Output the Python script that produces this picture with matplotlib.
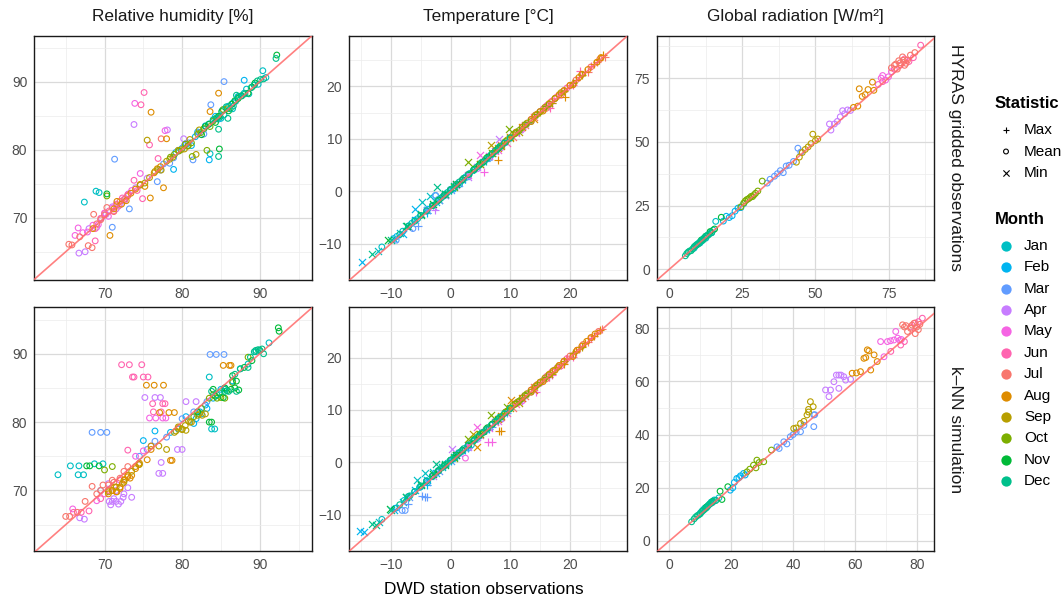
import matplotlib
matplotlib.use("Agg")
import matplotlib.pyplot as plt
from matplotlib.ticker import MultipleLocator

plt.rcParams['font.family'] = ['Liberation Sans', 'DejaVu Sans']

months = ['Jan', 'Feb', 'Mar', 'Apr', 'May', 'Jun', 'Jul', 'Aug', 'Sep', 'Oct', 'Nov', 'Dec']
month_colors = ['#00BFC4', '#00B4F0', '#619CFF', '#C77CFF', '#F564E3', '#FF64B0',
                '#F8766D', '#DE8C00', '#B79F00', '#7CAE00', '#00BA38', '#00C08B']
stats = ['Max', 'Mean', 'Min']
stat_markers = {'Max': '+', 'Mean': 'o', 'Min': 'x'}

variables = ['Relative humidity [%]', 'Temperature [°C]', 'Global radiation [W/m²]']
sources = ['HYRAS gridded observations', 'k\u2013NN simulation']

# rows: (month, statistic, DWD station values, compared values)
rh_hyras = [
    ('Jan', 'Mean', [84.2, 85.0, 85.8, 86.5, 87.2, 88.0, 88.6, 89.3, 90.4, 83.6, 68.9, 69.3, 67.4],
                    [84.5, 84.6, 86.2, 86.0, 87.6, 88.3, 88.2, 89.5, 91.6, 79.4, 73.9, 73.7, 72.3]),
    ('Jan', 'Mean', [85.4, 86.9, 88.3, 89.8, 90.8], [85.1, 87.1, 88.9, 89.6, 90.6]),
    ('Feb', 'Mean', [79.2, 80.5, 81.2, 82.0, 82.8, 83.5, 84.3, 85.2, 86.0, 87.2, 88.0, 83.5, 78.9],
                    [79.6, 80.9, 80.6, 82.6, 83.0, 78.5, 84.9, 85.8, 86.4, 87.8, 90.2, 83.8, 77.1]),
    ('Feb', 'Mean', [80.0, 81.7, 83.0, 84.7, 86.6], [80.2, 81.9, 83.5, 84.5, 86.9]),
    ('Mar', 'Mean', [76.8, 77.6, 78.4, 79.5, 80.3, 81.4, 82.2, 83.7, 85.4, 71.3, 73.2, 71.0],
                    [75.3, 77.9, 78.0, 79.9, 80.6, 78.5, 82.5, 86.6, 90.0, 78.6, 71.3, 68.6]),
    ('Mar', 'Mean', [77.2, 78.9, 80.8, 82.8], [77.0, 78.8, 81.0, 82.3]),
    ('Apr', 'Mean', [66.7, 67.5, 69.0, 70.2, 71.0, 72.0, 73.1, 74.0, 75.5, 73.8, 78.1, 80.2],
                    [64.8, 65.0, 68.6, 70.5, 71.6, 71.9, 73.5, 74.4, 75.8, 83.7, 82.9, 81.6]),
    ('Apr', 'Mean', [68.0, 69.6, 71.5, 72.6, 74.6], [68.4, 69.9, 71.3, 72.5, 74.8]),
    ('May', 'Mean', [66.6, 66.2, 67.8, 69.2, 70.5, 71.5, 72.5, 73.5, 74.6, 73.9, 77.8],
                    [68.5, 67.4, 67.9, 69.0, 70.2, 72.0, 72.7, 74.0, 76.5, 86.8, 82.8]),
    ('May', 'Mean', [67.2, 68.5, 70.0, 71.0, 73.0], [67.8, 68.9, 70.7, 71.4, 73.3]),
    ('Jun', 'Mean', [68.8, 68.8, 70.0, 71.2, 72.3, 73.8, 74.9, 75.1, 74.7, 75.8, 76.9],
                    [68.4, 66.6, 70.6, 71.0, 72.9, 75.5, 72.8, 88.4, 86.6, 80.7, 78.7]),
    ('Jun', 'Mean', [69.5, 70.6, 71.8, 73.0, 74.2], [69.9, 71.0, 71.7, 73.4, 74.0]),
    ('Jul', 'Mean', [65.4, 65.8, 67.9, 68.4, 68.6, 69.5, 70.3, 71.2, 72.0, 73.0, 77.3],
                    [66.1, 66.0, 65.9, 65.6, 70.5, 69.7, 71.5, 70.9, 72.4, 73.2, 81.6]),
    ('Jul', 'Mean', [66.8, 69.0, 70.0, 71.6, 72.6], [67.2, 69.1, 70.4, 71.9, 72.7]),
    ('Aug', 'Mean', [68.5, 70.7, 71.6, 72.8, 74.0, 75.2, 75.9, 76.8, 77.6, 76.0, 78.0, 84.7, 83.6],
                    [68.4, 67.4, 72.4, 72.5, 74.2, 74.6, 72.9, 77.2, 74.4, 85.5, 81.6, 88.3, 85.6]),
    ('Aug', 'Mean', [71.2, 72.2, 73.4, 74.6, 76.4, 77.2], [71.3, 72.0, 73.6, 74.9, 76.6, 77.5]),
    ('Sep', 'Mean', [74.6, 75.8, 76.5, 77.3, 78.0, 78.8, 79.5, 80.3, 81.0, 75.5, 81.8, 82.2],
                    [74.8, 75.9, 76.8, 77.0, 78.3, 78.9, 79.9, 80.1, 81.5, 81.4, 79.3, 82.9]),
    ('Sep', 'Mean', [75.2, 76.9, 78.4, 79.9, 80.7], [75.1, 77.1, 78.6, 80.0, 80.5]),
    ('Oct', 'Mean', [78.5, 79.6, 80.4, 81.2, 82.0, 82.8, 83.6, 84.5, 85.3, 70.3, 83.2, 81.3],
                    [78.9, 79.8, 80.8, 81.0, 82.3, 83.1, 83.4, 84.7, 85.9, 73.2, 79.9, 79.0]),
    ('Oct', 'Mean', [79.0, 80.8, 82.4, 84.0, 85.8], [79.3, 80.6, 82.5, 84.2, 86.0]),
    ('Nov', 'Mean', [82.5, 83.4, 84.3, 85.1, 86.0, 86.8, 87.6, 88.5, 89.4, 70.3, 92.2, 84.8],
                    [82.2, 83.7, 84.0, 85.6, 85.7, 87.2, 87.9, 88.3, 89.8, 73.5, 93.9, 80.1]),
    ('Nov', 'Mean', [83.0, 84.7, 86.4, 87.2, 89.0], [83.4, 84.9, 86.7, 87.5, 89.2]),
    ('Dec', 'Mean', [84.0, 84.9, 85.7, 86.6, 87.3, 88.1, 88.9, 89.7, 90.5, 84.7, 85.9, 92.1, 84.7, 87.0],
                    [84.4, 84.8, 86.3, 86.4, 87.8, 88.2, 89.1, 90.1, 90.4, 79.0, 84.6, 93.4, 83.0, 88.0]),
    ('Dec', 'Mean', [84.4, 86.2, 87.7, 89.3, 90.1], [84.6, 86.0, 87.9, 89.5, 90.3]),
]

rh_knn = [
    ('Jan', 'Mean', [64.0, 66.6, 67.3, 65.6, 66.7, 68.7, 69.8, 83.5, 83.8, 84.2, 85.5, 86.5, 87.5, 88.5, 89.5, 91.2],
                    [72.3, 72.3, 72.3, 73.6, 73.6, 73.9, 73.9, 86.6, 79.0, 79.0, 85.0, 86.0, 87.8, 88.5, 90.3, 91.6]),
    ('Feb', 'Mean', [78.5, 79.5, 80.5, 81.5, 82.3, 83.0, 84.0, 85.0, 86.5, 76.5, 75.0, 81.8, 82.5, 83.2],
                    [78.5, 79.0, 80.8, 79.8, 81.5, 82.5, 83.5, 84.8, 86.0, 78.7, 77.3, 80.5, 81.2, 82.0]),
    ('Mar', 'Mean', [68.4, 69.5, 70.3, 83.6, 84.4, 85.4, 74.5, 75.5, 76.5, 78.0, 80.0, 81.5, 83.2, 69.5],
                    [78.5, 78.5, 78.5, 89.9, 89.9, 89.9, 75.0, 76.0, 77.2, 77.8, 80.5, 81.5, 83.0, 70.0]),
    ('Apr', 'Mean', [75.2, 76.5, 77.2, 77.0, 77.5, 77.3, 79.4, 80.0, 66.8, 67.4, 70.6, 71.0, 71.5, 72.1,
                     72.5, 73.5, 71.5, 70.5, 80.5, 81.8, 70.8, 71.2, 71.8, 72.4, 73.0],
                    [83.6, 83.6, 83.6, 72.5, 72.5, 74.1, 76.0, 76.0, 66.0, 65.8, 68.4, 68.4, 68.4, 68.4,
                     69.5, 69.0, 70.0, 71.0, 83.0, 83.0, 67.9, 68.8, 68.0, 69.0, 70.4]),
    ('May', 'Mean', [75.8, 76.6, 77.5, 77.9, 65.9, 69.0, 70.0, 72.0, 74.0, 75.0, 76.0],
                    [80.6, 80.6, 80.6, 80.6, 67.3, 68.5, 69.5, 71.5, 75.0, 75.8, 76.5]),
    ('Jun', 'Mean', [72.2, 73.2, 74.8, 73.6, 73.8, 75.0, 75.6, 76.2, 77.5, 77.8, 76.3, 77.3, 73.0,
                     66.0, 67.0, 68.0, 69.5, 70.5],
                    [88.4, 88.4, 88.4, 86.6, 86.6, 86.6, 86.6, 82.7, 82.7, 82.7, 81.5, 81.5, 75.9,
                     66.8, 66.8, 67.0, 68.8, 70.0]),
    ('Jul', 'Mean', [65.0, 65.5, 66.5, 67.5, 68.4, 69.5, 70.5, 71.0, 72.0, 73.0, 69.0, 69.8, 70.5, 71.2, 72.5],
                    [66.2, 66.2, 66.8, 68.4, 70.6, 70.0, 70.8, 71.5, 71.8, 73.5, 69.5, 70.8, 70.0, 71.2, 72.8]),
    ('Aug', 'Mean', [75.4, 76.4, 77.6, 77.1, 78.3, 79.0, 78.5, 78.7, 85.3, 86.1, 86.3, 70.5, 71.0,
                     71.5, 72.0, 72.5, 73.0, 73.5, 74.0, 74.5, 75.5, 76.0],
                    [85.4, 85.4, 85.4, 81.4, 81.4, 81.4, 74.4, 74.4, 88.3, 88.3, 88.3, 69.5, 70.0,
                     69.8, 70.5, 71.5, 72.0, 72.2, 73.5, 74.0, 74.5, 76.0]),
    ('Aug', 'Mean', [71.0, 71.3, 71.6, 72.0, 72.3, 72.6, 73.0, 73.3, 74.0, 74.4],
                    [70.0, 70.5, 69.8, 70.3, 71.0, 71.6, 72.2, 71.8, 73.2, 73.8]),
    ('Sep', 'Mean', [70.5, 71.5, 72.5, 73.5, 74.5, 76.0, 77.0, 78.0, 79.0, 80.0, 81.0, 82.0, 83.0, 79.5, 80.5],
                    [69.8, 70.5, 71.2, 72.8, 73.8, 76.5, 76.5, 76.0, 78.5, 79.0, 80.0, 81.0, 81.2, 79.3, 78.8]),
    ('Sep', 'Mean', [79.2, 79.6, 80.0, 80.4, 80.8, 81.2, 82.2, 82.6], [78.7, 79.2, 78.9, 79.5, 80.2, 80.0, 81.2, 81.0]),
    ('Oct', 'Mean', [70.0, 71.0, 81.5, 82.5, 83.5, 84.5, 85.5, 86.5, 84.0, 85.0, 88.5],
                    [73.0, 73.5, 80.8, 82.0, 83.5, 83.5, 83.5, 85.8, 84.0, 83.6, 89.5]),
    ('Nov', 'Mean', [67.7, 68.1, 69.3, 83.5, 83.8, 82.0, 84.0, 85.5, 86.5, 87.0, 88.0, 89.0, 90.0, 92.4, 92.5],
                    [73.6, 73.6, 73.6, 80.0, 80.0, 81.5, 84.8, 85.0, 86.8, 86.0, 88.0, 89.0, 90.5, 93.8, 93.3]),
    ('Nov', 'Mean', [84.3, 84.8, 85.3, 85.8, 86.3, 86.8, 87.3], [83.8, 84.3, 83.6, 84.6, 84.8, 85.0, 84.7]),
    ('Dec', 'Mean', [83.8, 84.5, 85.5, 86.0, 86.8, 87.5, 88.5, 89.5, 90.0, 90.5, 85.5, 87.0, 88.8, 89.3, 89.8, 90.3],
                    [84.5, 84.0, 84.8, 84.5, 87.0, 87.8, 88.0, 90.5, 90.5, 90.0, 84.5, 84.5, 89.5, 90.3, 90.6, 90.7]),
]

temp_hyras = [
    ('Jan', 'Min', [-12.2, -8.5, -6.0, -4.8, -3.4, -2.0, -1.0], [-11.4, -8.0, -5.4, -2.0, -0.8, -1.6, -0.7]),
    ('Jan', 'Mean', [-11.5, -6.5, -4.0, -2.0, -0.5, 0.5, 1.5, 2.5], [-10.6, -6.1, -3.8, -1.6, -0.2, 0.7, 1.3, 2.6]),
    ('Jan', 'Mean', [-9.5, -8.0, -5.5, -3.0, -1.2, 0.0, 1.0, 2.0, 3.2], [-9.0, -7.6, -5.2, -2.7, -0.9, 0.2, 1.2, 2.1, 3.4]),
    ('Jan', 'Max', [-3.0, -1.0, 1.0, 2.5, 4.0, 5.0, 6.0], [-2.7, -0.6, 1.2, 2.3, 4.2, 5.1, 5.8]),
    ('Feb', 'Min', [-14.9, -7.9, -5.9, -9.5, -4.0, -2.5], [-13.5, -8.1, -3.3, -9.0, -3.5, -2.0]),
    ('Feb', 'Mean', [-9.0, -5.0, -2.5, -1.0, 0.5, 2.0, 3.0], [-8.6, -4.6, -0.8, -0.8, 0.4, 2.2, 3.1]),
    ('Feb', 'Mean', [-7.0, -6.0, -3.8, -1.8, 0.0, 1.2, 2.6, 4.0], [-6.6, -5.5, -3.4, -1.5, 0.3, 1.4, 2.8, 4.1]),
    ('Feb', 'Max', [-4.0, 0.0, 2.5, 4.5, 6.5, 8.0], [-4.2, 0.3, 2.3, 4.6, 6.6, 7.8]),
    ('Mar', 'Min', [-7.0, -4.0, -2.0, 0.0, 1.5], [-6.8, -3.6, -1.7, 0.2, 1.6]),
    ('Mar', 'Mean', [-9.1, -6.3, -2.5, 1.0, 3.0, 5.0, 6.5], [-9.3, -7.1, -0.8, 1.1, 2.8, 5.2, 6.3]),
    ('Mar', 'Mean', [-4.0, -1.0, 0.0, 2.0, 4.0, 5.8, 7.5, 8.5], [-3.6, -0.7, 0.3, 2.2, 4.2, 5.9, 7.6, 8.7]),
    ('Mar', 'Max', [-5.4, 4.0, 7.0, 9.5, 11.5, 13.0], [-6.7, 4.2, 6.8, 9.6, 11.3, 13.1]),
    ('Apr', 'Min', [-3.0, -1.0, 1.0, 3.0, 4.5, 8.1], [-2.8, -0.7, 1.3, 2.8, 4.7, 10.0]),
    ('Apr', 'Mean', [2.0, 4.5, 6.5, 8.5, 10.0, 3.0, 5.5, 7.5, 9.0, 11.0, 12.0],
                    [2.2, 4.3, 6.7, 8.3, 10.2, 3.2, 5.7, 7.7, 9.2, 11.1, 12.2]),
    ('Apr', 'Max', [-2.6, 9.0, 12.0, 14.0, 16.5], [-3.6, 9.2, 11.8, 14.2, 16.3]),
    ('May', 'Min', [1.0, 3.0, 4.9, 6.5, 8.0], [1.2, 3.2, 6.9, 6.7, 7.8]),
    ('May', 'Mean', [7.5, 10.0, 12.0, 13.5, 15.0, 8.5, 9.0, 11.0, 12.8, 14.2, 16.0],
                    [7.6, 10.2, 11.8, 13.7, 15.2, 8.7, 9.3, 11.2, 12.9, 14.5, 16.2]),
    ('May', 'Max', [5.6, 14.0, 17.0, 19.0, 21.0], [3.7, 14.3, 16.8, 19.3, 21.2]),
    ('Jun', 'Min', [5.0, 7.5, 9.5, 11.0], [5.2, 7.7, 9.3, 11.2]),
    ('Jun', 'Mean', [11.0, 13.5, 15.5, 17.0, 18.5, 12.0, 12.5, 14.5, 16.2, 17.8, 19.5],
                    [11.2, 13.3, 15.7, 17.2, 18.3, 12.3, 12.6, 14.7, 16.4, 18.0, 19.7]),
    ('Jun', 'Max', [16.6, 18.5, 20.5, 21.6, 23.5], [15.9, 18.7, 20.2, 22.9, 23.8]),
    ('Jul', 'Min', [8.5, 10.5, 12.5, 14.0], [8.8, 10.3, 12.7, 14.2]),
    ('Jul', 'Mean', [14.0, 16.0, 17.5, 19.0, 20.5, 15.0, 16.8, 18.2, 20.0, 21.0, 22.0, 23.5, 25.0],
                    [14.2, 15.8, 17.7, 19.2, 20.3, 15.2, 17.0, 18.4, 20.2, 21.2, 22.3, 23.7, 25.2]),
    ('Jul', 'Max', [19.5, 21.5, 23.0, 24.5, 25.8], [19.7, 21.7, 22.8, 24.7, 25.6]),
    ('Aug', 'Min', [8.0, 10.0, 12.0, 14.0], [8.2, 10.3, 12.2, 13.8]),
    ('Aug', 'Mean', [13.5, 15.5, 17.5, 19.0, 20.5, 22.0, 14.5, 16.5, 18.2, 20.0, 21.5, 23.0, 24.5, 25.2],
                    [13.7, 15.3, 17.7, 19.2, 20.3, 22.3, 14.7, 16.7, 18.4, 20.2, 21.7, 23.2, 24.6, 25.5]),
    ('Aug', 'Max', [7.9, 19.1, 21.0, 22.5, 24.0, 25.6, 24.8], [5.9, 18.0, 21.2, 22.8, 24.3, 25.9, 25.0]),
    ('Sep', 'Min', [6.7, 8.5, 10.0, 11.5], [8.9, 8.7, 10.2, 11.3]),
    ('Sep', 'Mean', [10.5, 12.0, 13.5, 15.0, 16.5, 9.5, 11.0, 12.8, 14.2, 15.8, 17.5, 18.5],
                    [10.8, 12.2, 13.3, 15.2, 16.6, 9.8, 11.3, 13.0, 14.5, 16.0, 17.7, 18.8]),
    ('Sep', 'Max', [15.0, 17.0, 19.0, 20.5, 22.0], [15.2, 16.8, 19.2, 20.7, 22.2]),
    ('Oct', 'Min', [0.5, 3.0, 5.0, 7.0, 9.8], [0.8, 5.5, 5.3, 7.3, 11.9]),
    ('Oct', 'Mean', [5.0, 7.0, 8.5, 10.0, 11.5, 4.0, 6.0, 7.8, 9.2, 10.8, 12.5],
                    [5.3, 7.2, 8.6, 10.2, 11.6, 4.3, 6.3, 8.0, 9.5, 11.0, 12.7]),
    ('Oct', 'Max', [9.0, 11.5, 13.0, 14.5, 16.0], [9.3, 11.7, 13.2, 14.7, 16.3]),
    ('Nov', 'Min', [-10.4, -7.3, -5.0, -3.0, -1.0, 1.0], [-9.2, -6.7, -4.5, -2.5, -0.6, 1.3]),
    ('Nov', 'Mean', [-3.0, 0.0, 2.0, 4.0, 5.5, 7.0, -2.0, -1.0, 1.0, 3.0, 4.8, 6.2, 8.0],
                    [-2.7, 0.3, 2.2, 4.2, 5.6, 7.2, -1.7, -0.7, 1.3, 3.2, 5.0, 6.5, 8.2]),
    ('Nov', 'Max', [1.0, 3.5, 6.0, 8.0, 9.5], [1.2, 3.6, 6.3, 8.2, 9.7]),
    ('Dec', 'Min', [-13.2, -10.0, -7.5, -5.0, -2.2, -1.0, 0.5], [-12.0, -9.3, -6.7, -4.4, 0.8, -0.5, 1.0]),
    ('Dec', 'Mean', [-6.0, -4.0, -1.5, 0.0, 1.5, 3.0, 4.5, 6.0, 7.5, 9.0],
                    [-5.7, -3.7, -1.2, 0.3, 1.8, 3.2, 4.7, 6.2, 7.7, 9.2]),
    ('Dec', 'Mean', [-8.5, -7.0, -5.0, -3.0, -2.2, -0.8, 0.8, 2.2, 3.8, 5.2, 6.8, 8.2, 10.0],
                    [-8.2, -6.6, -4.6, -2.7, -1.9, -0.5, 1.1, 2.5, 4.0, 5.5, 7.0, 8.5, 10.2]),
    ('Dec', 'Max', [0.0, 2.0, 4.0, 6.0, 8.0, 9.5], [0.3, 2.3, 4.3, 6.2, 8.2, 9.8]),
]

temp_knn = [
    ('Jan', 'Min', [-12.0, -8.0, -5.6, -4.2, -3.0, -1.5], [-11.4, -7.5, -3.3, -2.0, -1.8, -0.9]),
    ('Jan', 'Mean', [-11.5, -6.8, -4.0, -2.0, -0.5, 0.8, 2.0, -9.3, -7.8, -5.2, -3.0, -1.2, 0.2, 1.4, 3.0],
                    [-10.9, -6.4, -3.5, -1.6, -0.1, 0.9, 2.1, -8.8, -7.3, -4.8, -2.6, -0.8, 0.5, 1.7, 3.3]),
    ('Jan', 'Max', [-3.5, -1.0, 1.0, 3.0, 4.5, 6.0], [-3.2, -0.7, 1.3, 2.8, 4.6, 6.1]),
    ('Feb', 'Min', [-15.2, -14.5, -9.5, -6.0, -4.0, -2.5], [-13.2, -13.4, -9.1, -5.2, -3.3, -2.0]),
    ('Feb', 'Mean', [-9.0, -5.0, -3.0, -1.0, 0.5, 2.0, 3.5, -7.2, -6.0, -4.0, -2.0, 1.2, 2.8],
                    [-8.7, -4.7, -2.6, -0.6, 0.7, 2.3, 3.3, -6.7, -5.6, -3.6, -1.6, 1.5, 3.0]),
    ('Feb', 'Max', [-4.0, 0.0, 2.5, 4.5, 6.5, 8.0], [-4.3, 0.2, 2.3, 4.7, 6.4, 7.8]),
    ('Mar', 'Min', [-7.0, -4.0, -2.0, 0.0, 1.5], [-6.6, -3.7, -1.6, 0.3, 1.7]),
    ('Mar', 'Mean', [-8.1, -7.6, -2.5, 1.0, 3.0, 5.0, 7.0, -1.0, 0.0, 2.0, 4.0, 6.0, 8.5],
                    [-9.2, -9.2, -2.2, 1.2, 2.7, 5.1, 7.2, -0.7, 0.3, 2.3, 4.2, 6.1, 8.3]),
    ('Mar', 'Max', [-7.1, -4.8, -4.3, -4.0, 4.0, 7.0, 9.5, 12.0], [-8.0, -6.5, -6.6, -6.6, 4.2, 6.7, 9.4, 12.2]),
    ('Apr', 'Min', [-3.0, 0.2, 1.0, 3.0, 4.5], [-2.6, 2.5, 1.3, 2.9, 4.8]),
    ('Apr', 'Mean', [2.0, 4.5, 6.5, 8.5, 10.0, 3.0, 5.5, 7.5, 9.2, 11.0, 12.2],
                    [2.3, 4.4, 6.6, 8.2, 10.3, 3.3, 5.8, 7.7, 9.5, 11.3, 12.4]),
    ('Apr', 'Max', [9.0, 12.0, 14.0, 16.5], [9.3, 11.7, 14.3, 16.2]),
    ('May', 'Min', [1.0, 3.0, 4.5, 6.5, 8.0], [1.3, 3.3, 6.8, 6.6, 7.9]),
    ('May', 'Mean', [2.5, 7.5, 10.0, 12.0, 13.5, 15.0, 8.5, 9.2, 11.0, 12.8, 14.3, 16.0],
                    [0.8, 7.8, 10.3, 11.7, 13.8, 15.1, 8.8, 9.5, 11.3, 13.0, 14.6, 16.3]),
    ('May', 'Max', [6.3, 6.9, 14.3, 17.0, 19.0, 21.0], [3.8, 3.8, 13.5, 16.7, 19.4, 21.1]),
    ('Jun', 'Min', [5.0, 7.5, 9.5, 11.0], [5.3, 7.6, 9.4, 11.1]),
    ('Jun', 'Mean', [11.0, 13.5, 15.5, 17.0, 18.5, 12.0, 14.5, 16.2, 17.8, 19.5],
                    [11.3, 13.4, 15.6, 17.3, 18.4, 12.3, 14.8, 16.5, 18.0, 19.8]),
    ('Jun', 'Max', [16.5, 18.5, 19.4, 20.5, 22.0, 23.5], [16.3, 18.6, 19.8, 20.1, 22.3, 23.7]),
    ('Jul', 'Min', [8.5, 10.5, 12.5, 14.0], [8.7, 10.4, 12.6, 14.3]),
    ('Jul', 'Mean', [14.0, 16.0, 17.5, 19.0, 20.5, 15.0, 16.8, 18.2, 20.0, 21.2, 22.2, 23.6, 24.8],
                    [14.3, 15.9, 17.6, 19.3, 20.4, 15.3, 17.0, 18.5, 20.3, 21.4, 22.5, 23.8, 25.0]),
    ('Jul', 'Max', [19.5, 21.5, 23.0, 24.5, 25.4], [19.8, 21.6, 22.9, 24.6, 25.5]),
    ('Aug', 'Min', [4.5, 8.0, 10.1, 12.0, 14.0], [3.0, 8.3, 11.9, 12.3, 13.9]),
    ('Aug', 'Mean', [13.5, 15.5, 17.5, 19.0, 20.5, 22.0, 23.5, 14.5, 16.5, 18.2, 21.2, 22.8, 24.2],
                    [13.8, 15.4, 17.6, 19.3, 20.2, 22.2, 23.8, 14.8, 16.8, 18.5, 21.4, 23.1, 24.5]),
    ('Aug', 'Max', [8.1, 8.5, 19.0, 21.0, 22.5, 24.0, 25.0], [5.9, 5.9, 18.8, 21.3, 22.7, 24.2, 25.2]),
    ('Sep', 'Min', [3.8, 8.5, 10.0, 11.5], [5.4, 8.8, 10.3, 11.4]),
    ('Sep', 'Mean', [10.5, 12.0, 13.5, 15.0, 16.5, 18.0, 9.5, 11.2, 12.8, 14.2, 15.8, 17.2],
                    [10.9, 12.3, 13.4, 15.3, 16.7, 18.2, 9.8, 11.5, 13.1, 14.5, 16.1, 17.5]),
    ('Sep', 'Max', [15.0, 17.0, 19.0, 20.5, 22.0], [15.3, 16.9, 19.3, 20.8, 22.1]),
    ('Oct', 'Min', [0.5, 3.0, 5.0, 6.7, 9.5], [0.9, 4.5, 5.4, 9.1, 10.5]),
    ('Oct', 'Mean', [5.0, 7.0, 8.5, 10.0, 11.5, 4.0, 6.0, 7.8, 9.2, 10.8, 12.5],
                    [5.4, 7.3, 8.7, 10.3, 11.7, 4.4, 6.4, 8.1, 9.6, 11.1, 12.8]),
    ('Oct', 'Max', [9.0, 11.5, 13.0, 14.5, 16.0], [9.4, 11.8, 13.3, 14.8, 16.2]),
    ('Nov', 'Min', [-10.1, -7.5, -5.0, -3.0, -1.0, 1.0], [-9.0, -6.6, -4.3, -2.3, -0.5, 1.4]),
    ('Nov', 'Mean', [-3.0, 0.0, 2.0, 4.0, 5.5, 7.0, -2.0, -1.0, 1.0, 3.0, 4.8, 6.2, 8.0],
                    [-2.6, 0.4, 2.3, 4.3, 5.7, 7.3, -1.6, -0.6, 1.4, 3.3, 5.1, 6.6, 8.3]),
    ('Nov', 'Max', [1.0, 3.5, 6.0, 8.0, 9.5], [1.3, 3.7, 6.2, 8.3, 9.8]),
    ('Dec', 'Min', [-13.2, -12.5, -10.0, -7.5, -5.0, -2.5, -1.0, 0.5],
                   [-11.8, -11.9, -9.2, -6.6, -4.2, -0.4, -0.3, 1.1]),
    ('Dec', 'Mean', [-6.0, -4.0, -1.5, 0.0, 1.5, 3.0, 4.5, 6.0, 7.5, 9.0],
                    [-5.6, -3.6, -1.1, 0.4, 1.9, 3.3, 4.8, 6.3, 7.8, 9.3]),
    ('Dec', 'Mean', [-8.5, -7.0, -5.0, -3.0, -2.2, -0.8, 0.8, 2.2, 3.8, 5.2, 6.8, 8.2, 10.0],
                    [-8.1, -6.5, -4.5, -2.6, -1.8, -0.4, 1.2, 2.6, 4.1, 5.6, 7.1, 8.6, 10.3]),
    ('Dec', 'Max', [0.0, 2.0, 4.0, 6.0, 8.0, 9.5], [0.4, 2.4, 4.2, 6.3, 8.3, 9.7]),
]

rad_hyras = [
    ('Jan', 'Mean', [8.5, 9.5, 10.5, 11.5, 12.5, 13.5, 14.5, 15.9, 9.0, 10.0, 11.0, 12.0, 13.0, 14.0, 15.0],
                    [8.3, 9.8, 10.3, 11.8, 12.2, 13.7, 14.3, 18.8, 9.2, 10.2, 11.0, 12.4, 13.2, 14.5, 15.4]),
    ('Feb', 'Mean', [18.5, 19.5, 20.5, 21.5, 22.5, 23.5, 24.5, 25.5], [18.9, 20.8, 20.3, 21.0, 22.8, 24.0, 24.2, 25.8]),
    ('Mar', 'Mean', [33.5, 34.5, 36.0, 37.0, 38.0, 39.0, 40.0, 41.0, 42.5, 44.0, 45.0],
                    [33.8, 35.3, 36.5, 37.5, 38.7, 37.9, 40.5, 40.8, 42.3, 47.5, 46.0]),
    ('Apr', 'Mean', [55.3, 54.8, 56.5, 57.5, 58.5, 59.3, 60.0, 61.0, 62.0], [54.6, 57.0, 57.0, 58.0, 59.8, 62.2, 61.0, 62.5, 62.3]),
    ('May', 'Mean', [71.5, 72.5, 73.0, 74.0, 75.0, 76.0], [72.5, 75.0, 76.0, 74.2, 75.5, 77.5]),
    ('Jun', 'Mean', [77.0, 79.0, 80.5, 82.0, 83.5, 86.0, 73.0], [78.5, 80.0, 82.5, 81.5, 83.0, 87.9, 73.6]),
    ('Jul', 'Mean', [76.0, 77.5, 78.5, 79.8, 80.5, 81.5, 82.5, 84.0, 77.0, 78.0, 79.0, 80.0, 81.0],
                    [79.0, 80.5, 81.8, 83.3, 80.0, 82.0, 84.0, 85.0, 80.0, 78.5, 81.0, 82.0, 80.8]),
    ('Aug', 'Mean', [63.0, 64.5, 65.0, 66.0, 67.0, 68.0, 69.5, 70.0], [63.5, 64.0, 70.8, 67.8, 68.5, 70.5, 73.4, 70.2]),
    ('Sep', 'Mean', [43.5, 44.5, 45.5, 46.5, 47.5, 48.5, 49.1, 50.0, 50.8], [42.0, 44.0, 45.8, 47.0, 48.0, 49.3, 53.0, 50.5, 51.1]),
    ('Oct', 'Mean', [24.5, 25.5, 26.5, 27.5, 28.5, 29.5, 30.3, 31.8, 26.0, 27.0, 28.0, 29.0],
                    [24.5, 26.0, 27.3, 28.0, 28.5, 29.8, 30.7, 34.6, 26.8, 27.6, 28.6, 29.2]),
    ('Nov', 'Mean', [11.0, 12.5, 14.0, 15.5, 17.8], [11.5, 13.0, 14.8, 15.8, 20.4]),
    ('Dec', 'Mean', [5.5, 6.5, 7.5, 8.5, 9.5, 10.5, 11.5, 12.5, 13.5, 14.5, 6.0, 7.0, 8.0, 9.0, 10.0, 11.0, 12.0, 13.0],
                    [5.3, 6.8, 7.3, 8.8, 9.6, 10.8, 11.4, 12.9, 13.6, 14.4, 6.2, 7.2, 8.0, 9.3, 10.0, 11.3, 12.2, 13.3]),
]

rad_knn = [
    ('Jan', 'Mean', [10.0, 11.0, 12.0, 13.0, 14.0, 15.0, 16.0, 10.5, 11.5, 12.5, 13.5, 14.5],
                    [10.5, 11.8, 12.5, 13.8, 14.5, 15.3, 16.2, 11.2, 12.4, 13.2, 14.6, 15.4]),
    ('Feb', 'Mean', [19.7, 20.5, 21.0, 21.8, 22.5, 23.0, 24.0, 24.5], [19.1, 20.0, 22.0, 23.5, 23.8, 24.5, 25.4, 24.8]),
    ('Mar', 'Mean', [34.8, 35.5, 37.0, 38.0, 39.1, 40.0, 41.0, 42.4, 43.5, 46.7, 46.7, 47.0],
                    [35.4, 34.8, 37.3, 36.5, 39.2, 40.0, 41.0, 41.1, 43.5, 43.0, 47.4, 47.5]),
    ('Apr', 'Mean', [50.5, 51.6, 52.1, 53.2, 54.0, 54.8, 55.5, 56.4, 57.0, 58.6, 54.8],
                    [56.8, 54.3, 56.8, 59.9, 62.4, 62.4, 62.4, 61.8, 60.5, 60.8, 57.4]),
    ('May', 'Mean', [68.3, 69.4, 70.5, 71.5, 72.6, 73.2, 73.8, 74.5, 75.0],
                    [75.0, 69.3, 75.0, 75.3, 75.6, 78.8, 76.3, 75.5, 75.8]),
    ('Jun', 'Mean', [71.6, 74.8, 76.0, 78.0, 79.5, 80.5, 81.8], [71.3, 73.7, 75.0, 80.5, 82.0, 82.5, 83.8]),
    ('Jul', 'Mean', [75.4, 76.0, 77.0, 78.0, 79.1, 80.0, 80.5, 81.0, 79.5, 76.5, 78.5],
                    [81.3, 80.5, 78.8, 80.0, 81.9, 80.5, 79.5, 81.5, 78.0, 81.0, 81.2]),
    ('Aug', 'Mean', [59.1, 60.5, 61.8, 62.9, 64.0, 64.5, 65.1, 66.2, 67.2, 63.5],
                    [63.1, 63.2, 63.7, 68.7, 71.9, 71.5, 64.3, 70.0, 67.5, 69.0]),
    ('Sep', 'Mean', [40.2, 41.0, 42.4, 43.5, 44.5, 45.0, 45.6, 46.5, 45.0], [42.3, 42.5, 44.2, 45.0, 47.4, 48.5, 52.4, 50.5, 49.5]),
    ('Oct', 'Mean', [25.1, 26.0, 27.2, 28.0, 28.3, 29.0, 30.5, 33.0], [26.0, 27.0, 28.5, 27.5, 30.4, 29.5, 29.8, 34.2]),
    ('Nov', 'Mean', [16.4, 17.0, 18.9, 12.0, 14.0], [18.7, 15.6, 20.4, 12.8, 14.9]),
    ('Dec', 'Mean', [7.2, 8.0, 9.0, 10.0, 11.0, 12.0, 13.0, 14.0, 15.0, 8.5, 9.5, 10.5, 11.5, 12.5, 13.5],
                    [7.2, 8.3, 9.5, 10.2, 11.5, 12.6, 13.9, 14.8, 15.2, 9.0, 9.8, 11.0, 12.0, 13.3, 14.2]),
]

panels = [[rh_hyras, temp_hyras, rad_hyras], [rh_knn, temp_knn, rad_knn]]

# axis ranges and ticks per panel
xlims = [[(60.95, 96.7), (-16.95, 29.5), (-4.3, 90.6)], [(60.95, 96.7), (-16.95, 29.5), (-4.1, 85.6)]]
ylims = [[(60.85, 96.7), (-16.9, 29.6), (-4.2, 91.5)], [(61.1, 96.8), (-17.0, 29.6), (-3.9, 87.9)]]
major = [[10, 10, 25], [10, 10, 20]]

fig = plt.figure(figsize=(10.64, 6.01), dpi=100)
W, H = 1064, 601
col_left = [34.3, 349.3, 656.7]
col_w = 277.4
row_top = [36.0, 307.3]
row_h = 244.0

for r in range(2):
    for c in range(3):
        ax = fig.add_axes([col_left[c] / W, 1 - (row_top[r] + row_h) / H, col_w / W, row_h / H])
        for month, stat, obs, sim in panels[r][c]:
            col = month_colors[months.index(month)]
            mk = stat_markers[stat]
            if mk == 'o':
                ax.scatter(obs, sim, s=17, marker='o', facecolors='none', edgecolors=col, linewidths=0.8, zorder=3)
            else:
                ax.scatter(obs, sim, s=26, marker=mk, color=col, linewidths=0.85, zorder=3)
        ax.axline((0, 0), slope=1, color='#FF6A6A', alpha=0.85, lw=1.2, zorder=4)
        ax.set_xlim(*xlims[r][c])
        ax.set_ylim(*ylims[r][c])
        ax.xaxis.set_major_locator(MultipleLocator(major[r][c]))
        ax.yaxis.set_major_locator(MultipleLocator(major[r][c]))
        ax.xaxis.set_minor_locator(MultipleLocator(major[r][c] / 2))
        ax.yaxis.set_minor_locator(MultipleLocator(major[r][c] / 2))
        ax.grid(which='major', color='#DADADA', lw=0.9, zorder=0)
        ax.grid(which='minor', color='#ECECEC', lw=0.5, zorder=0)
        ax.set_axisbelow(True)
        ax.tick_params(which='major', length=0, labelsize=10, labelcolor='#4D4D4D', pad=5)
        ax.tick_params(which='minor', length=0)
        for sp in ax.spines.values():
            sp.set_color('#1A1A1A')
            sp.set_linewidth(1.0)

for c in range(3):
    fig.text((col_left[c] + col_w / 2) / W, 1 - 16 / H, variables[c], ha='center', va='center',
             fontsize=12.4, color='#1A1A1A')
for r in range(2):
    fig.text(955 / W, 1 - (row_top[r] + row_h / 2) / H, sources[r], ha='center', va='center',
             rotation=-90, fontsize=12.6, color='#1A1A1A')
fig.text(484 / W, 1 - 590 / H, 'DWD station observations', ha='center', va='center', fontsize=12.4)

# legends drawn in pixel space
lg = fig.add_axes([0, 0, 1, 1])
lg.set_xlim(0, W)
lg.set_ylim(H, 0)
lg.axis('off')
lg.text(995, 104, 'Statistic', fontsize=12, fontweight='bold', va='center', ha='left')
for i, st in enumerate(stats):
    y = 130 + i * 21.5
    if stat_markers[st] == 'o':
        lg.scatter([1006], [y], s=12, marker='o', facecolors='none', edgecolors='black', linewidths=0.8)
    else:
        lg.scatter([1006], [y], s=20, marker=stat_markers[st], color='black', linewidths=0.8)
    lg.text(1024, y, st, fontsize=11, va='center', ha='left')
lg.text(995, 219, 'Month', fontsize=12, fontweight='bold', va='center', ha='left')
for i, m in enumerate(months):
    y = 246 + i * 21.36
    lg.scatter([1006], [y], s=55, marker='o', color=month_colors[i], linewidths=0)
    lg.text(1024, y, m, fontsize=11, va='center', ha='left')

fig.savefig('out.png', dpi=100)
